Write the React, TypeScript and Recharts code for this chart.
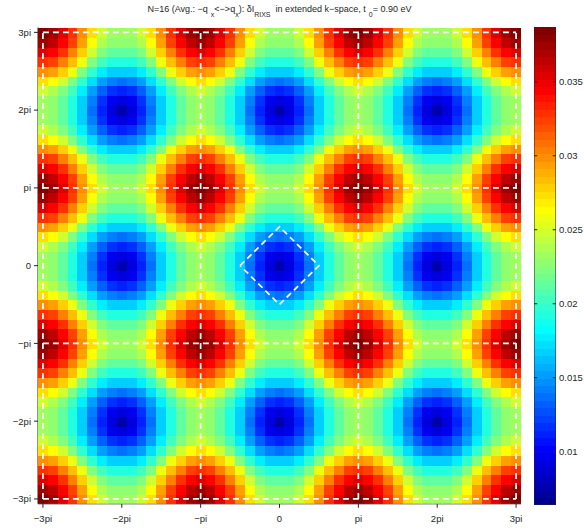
import React from "react";
import { ComposedChart, Scatter, XAxis, YAxis } from "recharts";

const PI = Math.PI;

// k-point index range along each axis (step π/8, i.e. 16 points per 2π)
const STEPS_PER_PERIOD = 16;
const K_MIN = -24;
const K_MAX = 24;

// axis ticks
const axisTicks = [-3 * PI, -2 * PI, -PI, 0, PI, 2 * PI, 3 * PI];
const axisTickLabels = ["−3pi", "−2pi", "−pi", "0", "pi", "2pi", "3pi"];

// δI_RIXS on the irreducible block: row = |q_y| step, column = |q_x| step (0 … π in steps of π/8)
const rowQy0 = [0.0076, 0.0090, 0.0112, 0.0137, 0.0166, 0.0192, 0.0212, 0.0226, 0.0232];
const rowQy1 = [0.0090, 0.0098, 0.0116, 0.0140, 0.0168, 0.0194, 0.0214, 0.0228, 0.0234];
const rowQy2 = [0.0112, 0.0116, 0.0130, 0.0152, 0.0178, 0.0203, 0.0224, 0.0240, 0.0246];
const rowQy3 = [0.0137, 0.0140, 0.0152, 0.0172, 0.0198, 0.0224, 0.0246, 0.0264, 0.0272];
const rowQy4 = [0.0166, 0.0168, 0.0178, 0.0198, 0.0224, 0.0258, 0.0280, 0.0294, 0.0300];
const rowQy5 = [0.0192, 0.0194, 0.0203, 0.0224, 0.0258, 0.0286, 0.0306, 0.0322, 0.0328];
const rowQy6 = [0.0212, 0.0214, 0.0224, 0.0246, 0.0280, 0.0306, 0.0328, 0.0346, 0.0354];
const rowQy7 = [0.0226, 0.0228, 0.0240, 0.0264, 0.0294, 0.0322, 0.0346, 0.0366, 0.0376];
const rowQy8 = [0.0232, 0.0234, 0.0246, 0.0272, 0.0300, 0.0328, 0.0354, 0.0376, 0.0385];
const block = [rowQy0, rowQy1, rowQy2, rowQy3, rowQy4, rowQy5, rowQy6, rowQy7, rowQy8];

// colour scale
const C_MIN = 0.0064;
const C_MAX = 0.0387;
const colorTicks = [0.01, 0.015, 0.02, 0.025, 0.03, 0.035];
const colorTickLabels = ["0.01", "0.015", "0.02", "0.025", "0.03", "0.035"];

// white dashed guides: Brillouin-zone squares and the central diamond
const zoneLines = [
  [[-3 * PI, -3 * PI], [-3 * PI, 3 * PI]],
  [[-PI, -3 * PI], [-PI, 3 * PI]],
  [[PI, -3 * PI], [PI, 3 * PI]],
  [[3 * PI, -3 * PI], [3 * PI, 3 * PI]],
  [[-3 * PI, -3 * PI], [3 * PI, -3 * PI]],
  [[-3 * PI, -PI], [3 * PI, -PI]],
  [[-3 * PI, PI], [3 * PI, PI]],
  [[-3 * PI, 3 * PI], [3 * PI, 3 * PI]],
];
const diamond = [[-PI / 2, 0], [0, PI / 2], [PI / 2, 0], [0, -PI / 2], [-PI / 2, 0]];

// layout
const W = 584;
const H = 530;
const PLOT_LEFT = 38;
const PLOT_RIGHT = 521;
const PLOT_TOP = 27.5;
const PLOT_BOTTOM = 503.8;
const NCELLS = K_MAX - K_MIN + 1;
const CELL_W = (PLOT_RIGHT - PLOT_LEFT) / NCELLS;
const CELL_H = (PLOT_BOTTOM - PLOT_TOP) / NCELLS;
const HALF = PI / 16;
const DOMAIN: [number, number] = [(K_MIN * PI) / 8 - HALF, (K_MAX * PI) / 8 + HALF];

const CB_LEFT = 534;
const CB_RIGHT = 556;
const CB_TOP = 27;
const CB_BOTTOM = 505;
const CB_W = CB_RIGHT - CB_LEFT;

const FONT = "'Liberation Sans', Arial, sans-serif";
const INK = "#262626";

// MATLAB-style jet colormap
function jet(n: number): string[] {
  const m = Math.ceil(n / 4);
  const u: number[] = [];
  for (let i = 1; i <= m; i++) u.push(i / m);
  for (let i = 1; i <= m - 1; i++) u.push(1);
  for (let i = m; i >= 1; i--) u.push(i / m);
  const g0 = Math.ceil(m / 2) - (n % 4 === 1 ? 1 : 0);
  const r = new Array(n).fill(0);
  const g = new Array(n).fill(0);
  const b = new Array(n).fill(0);
  for (let k = 0; k < u.length; k++) {
    const gi = g0 + k + 1;
    const ri = gi + m;
    const bi = gi - m;
    if (gi >= 1 && gi <= n) g[gi - 1] = u[k];
    if (ri >= 1 && ri <= n) r[ri - 1] = u[k];
    if (bi >= 1 && bi <= n) b[bi - 1] = u[k];
  }
  const h = (x: number) => Math.round(x * 255).toString(16).padStart(2, "0");
  return r.map((_, i) => `#${h(r[i])}${h(g[i])}${h(b[i])}`);
}
const LEVELS = 64;
const CMAP = jet(LEVELS);
const colorFor = (v: number) => {
  const idx = Math.floor(((v - C_MIN) / (C_MAX - C_MIN)) * LEVELS);
  return CMAP[Math.max(0, Math.min(LEVELS - 1, idx))];
};

// fold a k index onto the irreducible block (periodic, mirror-symmetric)
const fold = (n: number) => {
  const r = ((n % STEPS_PER_PERIOD) + STEPS_PER_PERIOD) % STEPS_PER_PERIOD;
  return r <= STEPS_PER_PERIOD / 2 ? r : STEPS_PER_PERIOD - r;
};

const cells: { qx: number; qy: number; v: number }[] = [];
for (let iy = K_MIN; iy <= K_MAX; iy++) {
  for (let ix = K_MIN; ix <= K_MAX; ix++) {
    cells.push({ qx: (ix * PI) / 8, qy: (iy * PI) / 8, v: block[fold(iy)][fold(ix)] });
  }
}

const CellShape = (props: any) => {
  const { cx, cy, payload } = props;
  if (cx == null || cy == null) return <g />;
  return (
    <rect
      x={cx - CELL_W / 2}
      y={cy - CELL_H / 2}
      width={CELL_W + 0.6}
      height={CELL_H + 0.6}
      fill={colorFor(payload.v)}
      shapeRendering="crispEdges"
    />
  );
};
const NoDot = () => <g />;

const dashStyle = { stroke: "#ffffff", strokeWidth: 1.7, strokeDasharray: "6 4" };

// colour bar: one band per colormap level
const BAND_H = (CB_BOTTOM - CB_TOP) / LEVELS;
const colorBands = CMAP.map((c, i) => ({
  x: 0.5,
  y: C_MIN + ((C_MAX - C_MIN) * (i + 0.5)) / LEVELS,
  fill: c,
}));
const BandShape = (props: any) => {
  const { cx, cy, payload } = props;
  if (cx == null || cy == null) return <g />;
  return (
    <rect
      x={cx - CB_W / 2}
      y={cy - BAND_H / 2}
      width={CB_W}
      height={BAND_H + 0.5}
      fill={payload.fill}
      shapeRendering="crispEdges"
    />
  );
};
const cbFrame = [
  { x: 0, y: C_MIN },
  { x: 0, y: C_MAX },
  { x: 1, y: C_MAX },
  { x: 1, y: C_MIN },
  { x: 0, y: C_MIN },
];
const frameStyle = { stroke: INK, strokeWidth: 1 };
// vertical position of a colour-bar value (linear scale of the bar)
const cbY = (v: number) => CB_BOTTOM - ((v - C_MIN) / (C_MAX - C_MIN)) * (CB_BOTTOM - CB_TOP);

const tickStyle = { fontFamily: FONT, fontSize: 9.5, fill: INK };
const fmtAxis = (v: number) => {
  const i = axisTicks.findIndex((t) => Math.abs(t - v) < 1e-9);
  return i >= 0 ? axisTickLabels[i] : "";
};

export default function App() {
  return (
    <div style={{ position: "relative", width: W, height: H, background: "#fff" }}>
      <style>{"body{margin:0}"}</style>

      <div style={{ position: "absolute", left: 0, top: 0, zIndex: 1 }}>
        <ComposedChart
          width={PLOT_RIGHT + 2}
          height={H}
          margin={{ top: PLOT_TOP, right: 2, bottom: 0, left: 0 }}
        >
          <XAxis
            xAxisId="b"
            type="number"
            dataKey="qx"
            domain={DOMAIN}
            ticks={axisTicks}
            tickFormatter={fmtAxis}
            orientation="bottom"
            height={H - PLOT_BOTTOM}
            tickSize={4}
            tickMargin={7}
            tick={tickStyle}
            stroke={INK}
            interval={0}
            allowDataOverflow
          />
          <XAxis
            xAxisId="t"
            type="number"
            domain={DOMAIN}
            ticks={axisTicks}
            orientation="top"
            height={0}
            tickSize={4}
            tick={false}
            stroke={INK}
            allowDataOverflow
          />
          <YAxis
            yAxisId="l"
            type="number"
            dataKey="qy"
            domain={DOMAIN}
            ticks={axisTicks}
            tickFormatter={fmtAxis}
            orientation="left"
            width={PLOT_LEFT}
            tickSize={4}
            tickMargin={3}
            tick={tickStyle}
            stroke={INK}
            interval={0}
            allowDataOverflow
          />
          <YAxis
            yAxisId="r"
            type="number"
            domain={DOMAIN}
            ticks={axisTicks}
            orientation="right"
            width={0}
            tickSize={4}
            tick={false}
            stroke={INK}
            allowDataOverflow
          />
          <Scatter data={cells} xAxisId="b" yAxisId="l" dataKey="qy" shape={CellShape} isAnimationActive={false} />
          {zoneLines.map((seg, i) => (
            <Scatter
              key={`z${i}`}
              data={seg.map(([x, y]) => ({ qx: x, qy: y }))}
              xAxisId="b"
              yAxisId="l"
              dataKey="qy"
              shape={NoDot}
              line={dashStyle}
              isAnimationActive={false}
            />
          ))}
          <Scatter
            data={diamond.map(([x, y]) => ({ qx: x, qy: y }))}
            xAxisId="b"
            yAxisId="l"
            dataKey="qy"
            shape={NoDot}
            line={dashStyle}
            isAnimationActive={false}
          />
        </ComposedChart>
      </div>

      <div style={{ position: "absolute", left: CB_LEFT, top: 0, zIndex: 2 }}>
        <ComposedChart
          width={CB_W}
          height={H}
          margin={{ top: CB_TOP, right: 0, bottom: H - CB_BOTTOM, left: 0 }}
        >
          <XAxis xAxisId="c" type="number" dataKey="x" domain={[0, 1]} hide allowDataOverflow />
          <YAxis yAxisId="c" type="number" dataKey="y" domain={[C_MIN, C_MAX]} hide allowDataOverflow />
          <Scatter data={colorBands} xAxisId="c" yAxisId="c" dataKey="y" shape={BandShape} isAnimationActive={false} />
          <Scatter
            data={cbFrame}
            xAxisId="c"
            yAxisId="c"
            dataKey="y"
            shape={NoDot}
            line={frameStyle}
            isAnimationActive={false}
          />
        </ComposedChart>
      </div>

      <svg width={W} height={H} style={{ position: "absolute", left: 0, top: 0, zIndex: 3, pointerEvents: "none" }}>
        <text x={(PLOT_LEFT + PLOT_RIGHT) / 2} y={12} textAnchor="middle" fontFamily={FONT} fontSize={9} fill={INK}>
          <tspan>N=16 (Avg.: −q</tspan>
          <tspan dx={3} dy={5} fontSize={7}>x</tspan>
          <tspan dy={-5}>{"<−>q"}</tspan>
          <tspan dy={5} fontSize={7}>x</tspan>
          <tspan dy={-5}>): δI</tspan>
          <tspan dy={5} fontSize={7}>RIXS</tspan>
          <tspan dx={5} dy={-5}>in extended k−space, t</tspan>
          <tspan dx={3} dy={5} fontSize={7}>0</tspan>
          <tspan dy={-5}>= 0.90 eV</tspan>
        </text>
        {colorTicks.map((t, i) => (
          <g key={t}>
            <line x1={CB_LEFT} x2={CB_LEFT + 3.3} y1={cbY(t)} y2={cbY(t)} stroke={INK} strokeWidth={1} />
            <line x1={CB_RIGHT - 3.3} x2={CB_RIGHT} y1={cbY(t)} y2={cbY(t)} stroke={INK} strokeWidth={1} />
            <text x={CB_RIGHT + 3} y={cbY(t)} dy="0.355em" fontFamily={FONT} fontSize={9.5} fill={INK}>
              {colorTickLabels[i]}
            </text>
          </g>
        ))}
      </svg>
    </div>
  );
}
